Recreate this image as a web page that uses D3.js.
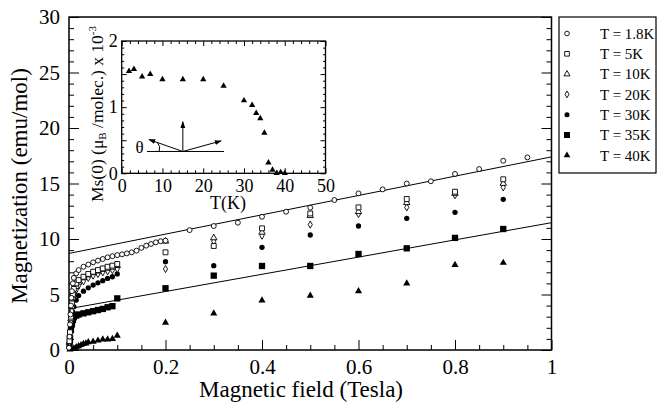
<!DOCTYPE html>
<html>
<head>
<meta charset="utf-8">
<script src="https://d3js.org/d3.v7.min.js"></script>
<style>
body { margin: 0; background: #fff; }
svg text { font-family: "Liberation Serif", "Times New Roman", serif; fill: #000; }
</style>
</head>
<body>
<svg id="drawing_region"></svg>
<script>
// ---- main plot data: field (Tesla) and magnetization (emu/mol) ----
const field_18K = [0, 0.001, 0.002, 0.003, 0.004, 0.005, 0.006, 0.008, 0.01, 0.015, 0.02, 0.03, 0.04, 0.05, 0.06, 0.07, 0.08, 0.09, 0.1,
    0.11, 0.12, 0.13, 0.14, 0.15, 0.16, 0.17, 0.18, 0.19, 0.2, 0.25, 0.3, 0.35, 0.4, 0.45, 0.5, 0.55, 0.6, 0.65, 0.7, 0.75, 0.8, 0.85, 0.9, 0.95];
const mag_18K = [0.2, 1.2, 2.3, 3.2, 4.0, 4.7, 5.3, 6.0, 6.5, 6.9, 7.2, 7.5, 7.7, 7.9, 8.05, 8.2, 8.35, 8.45, 8.55,
    8.62, 8.7, 8.8, 8.95, 9.2, 9.4, 9.55, 9.7, 9.8, 9.85, 10.8, 11.17, 11.47, 12.0, 12.46, 12.82, 13.51, 14.11, 14.47, 15.0, 15.2, 15.86, 16.3, 17.05, 17.35];

const field_low = [0.001, 0.002, 0.004, 0.006, 0.008, 0.01, 0.015, 0.02, 0.03, 0.04, 0.05, 0.06, 0.07, 0.08, 0.09, 0.1,
    0.2, 0.3, 0.4, 0.5, 0.6, 0.7, 0.8, 0.9];
const mag_5K  = [0.8, 1.6, 3.0, 4.2, 5.0, 5.5, 6.0, 6.3, 6.6, 6.85, 7.05, 7.2, 7.35, 7.5, 7.6, 7.75,
    8.8, 9.37, 10.96, 12.3, 12.85, 13.6, 14.26, 15.38];
const mag_10K = [0.7, 1.4, 2.8, 3.9, 4.7, 5.2, 5.7, 6.1, 6.5, 6.75, 6.95, 7.1, 7.25, 7.35, 7.45, 7.6,
    9.8, 10.1, 10.6, 12.1, 12.46, 13.27, 14.1, 15.0];
const mag_20K = [0.6, 1.2, 2.5, 3.5, 4.3, 4.8, 5.4, 5.8, 6.2, 6.5, 6.7, 6.85, 7.0, 7.1, 7.2, 7.3,
    7.3, 9.8, 10.3, 11.3, 12.25, 12.85, 13.95, 14.65];
const mag_30K = [0.5, 1.0, 2.0, 2.8, 3.4, 3.9, 4.5, 4.9, 5.3, 5.6, 5.85, 6.05, 6.25, 6.45, 6.6, 6.85,
    7.96, 7.6, 9.25, 10.36, 11.17, 11.86, 12.4, 13.57];
const mag_35K = [0.4, 0.9, 1.8, 2.3, 2.7, 2.95, 3.1, 3.2, 3.3, 3.4, 3.5, 3.6, 3.7, 3.85, 3.95, 4.65,
    5.56, 6.7, 7.57, 7.57, 8.65, 9.16, 10.1, 10.9];

const field_40K = [0.002, 0.005, 0.01, 0.015, 0.02, 0.025, 0.03, 0.035, 0.04, 0.05, 0.06, 0.07, 0.08, 0.09, 0.1,
    0.2, 0.3, 0.4, 0.5, 0.6, 0.7, 0.8, 0.9];
const mag_40K = [0.05, 0.1, 0.15, 0.25, 0.35, 0.45, 0.55, 0.6, 0.7, 0.75, 0.85, 0.95, 0.95, 1.0, 1.3,
    2.46, 3.3, 4.47, 4.9, 5.3, 6.0, 7.66, 7.86];

const legend_labels = ['T = 1.8K', 'T = 5K', 'T = 10K', 'T = 20K', 'T = 30K', 'T = 35K', 'T = 40K'];

// linear fits drawn through 1.8K and 35K data (end points at 0 and 1 Tesla)
const fit_field = [0, 1];
const fit_18K = [8.7, 17.4];
const fit_35K = [3.72, 11.47];

// ---- inset data: temperature (K) and Ms(0) ----
const inset_T  = [1.8, 3, 5, 7, 10, 15, 20, 25, 30, 32, 33, 34, 35, 36, 37, 38, 39, 40];
const inset_Ms = [1.545, 1.575, 1.46, 1.5, 1.42, 1.42, 1.42, 1.32, 1.10, 1.03, 0.91, 0.83, 0.61, 0.16, 0.05, 0.0, 0.015, 0.0];

const x_major = [0, 0.2, 0.4, 0.6, 0.8, 1];
const y_major = [0, 5, 10, 15, 20, 25, 30];
const inset_x_major = [0, 10, 20, 30, 40, 50];
const inset_y_major = [0, 1, 2];

// ---- drawing ----
const width = 659, height = 405;
const svg = d3.select('#drawing_region')
    .attr('width', width)
    .attr('height', height);

const x = d3.scaleLinear().domain([0, 1]).range([69, 551.5]);
const y = d3.scaleLinear().domain([0, 30]).range([350, 17]);

const ix = d3.scaleLinear().domain([0, 50]).range([121.7, 325.5]);
const iy = d3.scaleLinear().domain([0, 2]).range([173.3, 41]);

function styleAxis(g) {
    g.select('.domain').remove();
    g.selectAll('line').attr('stroke', '#000').attr('stroke-width', 1);
}

// main axes: ticks point inward
const minor_x = d3.range(0.05, 1, 0.05).filter(v => Math.abs(v * 5 - Math.round(v * 5)) > 1e-6);
const minor_y = d3.range(1, 30, 1).filter(v => v % 5 !== 0);

svg.append('g').attr('transform', `translate(0,${y(0)})`)
    .call(d3.axisBottom(x).tickValues(minor_x).tickSize(-5).tickFormat(''))
    .call(styleAxis);
svg.append('g').attr('transform', `translate(0,${y(0)})`)
    .call(d3.axisBottom(x).tickValues(x_major).tickSize(-10).tickPadding(9)
        .tickFormat(d => (d === 0 || d === 1) ? d : d3.format('.1f')(d)))
    .call(styleAxis)
    .selectAll('text').attr('font-size', 21);

svg.append('g').attr('transform', `translate(${x(0)},0)`)
    .call(d3.axisLeft(y).tickValues(minor_y).tickSize(-5).tickFormat(''))
    .call(styleAxis);
svg.append('g').attr('transform', `translate(${x(0)},0)`)
    .call(d3.axisLeft(y).tickValues(y_major).tickSize(-10).tickPadding(9))
    .call(styleAxis)
    .selectAll('text').attr('font-size', 21);

svg.append('g').attr('transform', `translate(${x(1)},0)`)
    .call(d3.axisRight(y).tickValues(minor_y).tickSize(-5).tickFormat(''))
    .call(styleAxis);
svg.append('g').attr('transform', `translate(${x(1)},0)`)
    .call(d3.axisRight(y).tickValues(y_major).tickSize(-10).tickFormat(''))
    .call(styleAxis);

svg.append('rect')
    .attr('x', x(0)).attr('y', y(30))
    .attr('width', x(1) - x(0)).attr('height', y(0) - y(30))
    .attr('fill', 'none').attr('stroke', '#000').attr('stroke-width', 1.5);

svg.append('text')
    .attr('x', 301).attr('y', 397)
    .attr('text-anchor', 'middle').attr('font-size', 23)
    .text('Magnetic field (Tesla)');
svg.append('text')
    .attr('transform', 'translate(27,186) rotate(-90)')
    .attr('text-anchor', 'middle').attr('font-size', 23)
    .text('Magnetization (emu/mol)');

// fit lines
const line = d3.line().x(d => x(d[0])).y(d => y(d[1]));
[fit_18K, fit_35K].forEach(fit => {
    svg.append('path')
        .datum(fit_field.map((f, i) => [f, fit[i]]))
        .attr('d', line)
        .attr('fill', 'none').attr('stroke', '#000').attr('stroke-width', 1);
});

// series
const series = [
    {field: field_18K, mag: mag_18K, type: d3.symbolCircle,   size: 19, fill: false},
    {field: field_low, mag: mag_5K,  type: d3.symbolSquare,   size: 24, fill: false},
    {field: field_low, mag: mag_10K, type: d3.symbolTriangle, size: 18, fill: false},
    {field: field_low, mag: mag_20K, type: d3.symbolDiamond,  size: 15, fill: false},
    {field: field_low, mag: mag_30K, type: d3.symbolCircle,   size: 22, fill: true},
    {field: field_low, mag: mag_35K, type: d3.symbolSquare,   size: 40, fill: true},
    {field: field_40K, mag: mag_40K, type: d3.symbolTriangle, size: 22, fill: true}
];

series.slice().reverse().forEach(s => {
    const pts = s.field.map((f, i) => [f, s.mag[i]]);
    svg.append('g').selectAll('path')
        .data(pts)
        .join('path')
        .attr('transform', d => `translate(${x(d[0])},${y(d[1])})`)
        .attr('d', d3.symbol().type(s.type).size(s.size))
        .attr('fill', s.fill ? '#000' : '#fff')
        .attr('stroke', '#000')
        .attr('stroke-width', s.fill ? 0 : 0.9);
});

// legend
const legend = svg.append('g');
legend.append('rect')
    .attr('x', 559).attr('y', 17).attr('width', 97).attr('height', 156)
    .attr('fill', '#fff').attr('stroke', '#000').attr('stroke-width', 1.2);
series.forEach((s, i) => {
    const ly = 33.5 + i * 20.3;
    legend.append('path')
        .attr('transform', `translate(567,${ly})`)
        .attr('d', d3.symbol().type(s.type).size(s.size * 0.9))
        .attr('fill', s.fill ? '#000' : '#fff')
        .attr('stroke', '#000')
        .attr('stroke-width', s.fill ? 0 : 0.9);
    legend.append('text')
        .attr('x', 600).attr('y', ly).attr('dy', '0.35em')
        .attr('font-size', 15)
        .text(legend_labels[i]);
});

// ---- inset ----
const inset = svg.append('g');
inset.append('rect')
    .attr('x', ix(0)).attr('y', iy(2))
    .attr('width', ix(50) - ix(0)).attr('height', iy(0) - iy(2))
    .attr('fill', '#fff').attr('stroke', '#000').attr('stroke-width', 1.3);

const inset_minor_x = d3.range(2, 50, 2).filter(v => v % 10 !== 0);
const inset_minor_y = d3.range(0.1, 2, 0.1).filter(v => Math.abs(v * 2 - Math.round(v * 2)) > 1e-6);
const inset_mid_y = [0.5, 1.5];

inset.append('g').attr('transform', `translate(0,${iy(0)})`)
    .call(d3.axisBottom(ix).tickValues(inset_minor_x).tickSize(-3).tickFormat(''))
    .call(styleAxis);
inset.append('g').attr('transform', `translate(0,${iy(0)})`)
    .call(d3.axisBottom(ix).tickValues(inset_x_major).tickSize(-5).tickPadding(6).tickFormat(d3.format('d')))
    .call(styleAxis)
    .selectAll('text').attr('font-size', 18);
inset.append('g').attr('transform', `translate(0,${iy(2)})`)
    .call(d3.axisTop(ix).tickValues(inset_minor_x).tickSize(-3).tickFormat(''))
    .call(styleAxis);
inset.append('g').attr('transform', `translate(0,${iy(2)})`)
    .call(d3.axisTop(ix).tickValues(inset_x_major).tickSize(-5).tickFormat(''))
    .call(styleAxis);

inset.append('g').attr('transform', `translate(${ix(0)},0)`)
    .call(d3.axisLeft(iy).tickValues(inset_minor_y).tickSize(-2.5).tickFormat(''))
    .call(styleAxis);
inset.append('g').attr('transform', `translate(${ix(0)},0)`)
    .call(d3.axisLeft(iy).tickValues(inset_mid_y).tickSize(-5).tickFormat(''))
    .call(styleAxis);
inset.append('g').attr('transform', `translate(${ix(0)},0)`)
    .call(d3.axisLeft(iy).tickValues(inset_y_major).tickSize(-5).tickPadding(4).tickFormat(d3.format('d')))
    .call(styleAxis)
    .selectAll('text').attr('font-size', 18);
inset.append('g').attr('transform', `translate(${ix(50)},0)`)
    .call(d3.axisRight(iy).tickValues(inset_minor_y).tickSize(-2.5).tickFormat(''))
    .call(styleAxis);
inset.append('g').attr('transform', `translate(${ix(50)},0)`)
    .call(d3.axisRight(iy).tickValues(inset_mid_y.concat(inset_y_major)).tickSize(-5).tickFormat(''))
    .call(styleAxis);

inset.append('g').selectAll('path')
    .data(inset_T.map((t, i) => [t, inset_Ms[i]]))
    .join('path')
    .attr('transform', d => `translate(${ix(d[0])},${iy(d[1])})`)
    .attr('d', d3.symbol().type(d3.symbolTriangle).size(17))
    .attr('fill', '#000');

inset.append('text')
    .attr('x', 228).attr('y', 209)
    .attr('text-anchor', 'middle').attr('font-size', 18)
    .text('T(K)');

const ylab = inset.append('text')
    .attr('transform', 'translate(103,114) rotate(-90)')
    .attr('text-anchor', 'middle').attr('font-size', 17.5);
ylab.append('tspan').text('Ms(0) (\u03bc');
ylab.append('tspan').attr('font-size', 11).attr('baseline-shift', '-30%').text('B');
ylab.append('tspan').text(' /molec.) x 10');
ylab.append('tspan').attr('font-size', 11).attr('baseline-shift', '60%').text('-3');

// spin sketch with angle theta
svg.append('defs').append('marker')
    .attr('id', 'arrow')
    .attr('viewBox', '0 0 10 10')
    .attr('refX', 9).attr('refY', 5)
    .attr('markerWidth', 7).attr('markerHeight', 7)
    .attr('orient', 'auto')
    .append('path').attr('d', 'M0,1.5 L10,5 L0,8.5 Z').attr('fill', '#000');

const origin = [15, 0.33];
inset.append('line')
    .attr('x1', ix(6.2)).attr('y1', iy(origin[1]))
    .attr('x2', ix(25.1)).attr('y2', iy(origin[1]))
    .attr('stroke', '#000').attr('stroke-width', 1);
[[15, 0.78], [6.7, 0.51], [24.4, 0.49]].forEach(tip => {
    inset.append('line')
        .attr('x1', ix(origin[0])).attr('y1', iy(origin[1]))
        .attr('x2', ix(tip[0])).attr('y2', iy(tip[1]))
        .attr('stroke', '#000').attr('stroke-width', 1)
        .attr('marker-end', 'url(#arrow)');
});
inset.append('path')
    .attr('d', `M${ix(9.2)},${iy(origin[1])} A9,9 0 0 0 ${ix(8.7)},${iy(0.47)}`)
    .attr('fill', 'none').attr('stroke', '#000').attr('stroke-width', 1);
inset.append('text')
    .attr('x', ix(4.4)).attr('y', iy(0.4)).attr('dy', '0.35em')
    .attr('text-anchor', 'middle').attr('font-size', 17)
    .text('\u03b8');
</script>
</body>
</html>
